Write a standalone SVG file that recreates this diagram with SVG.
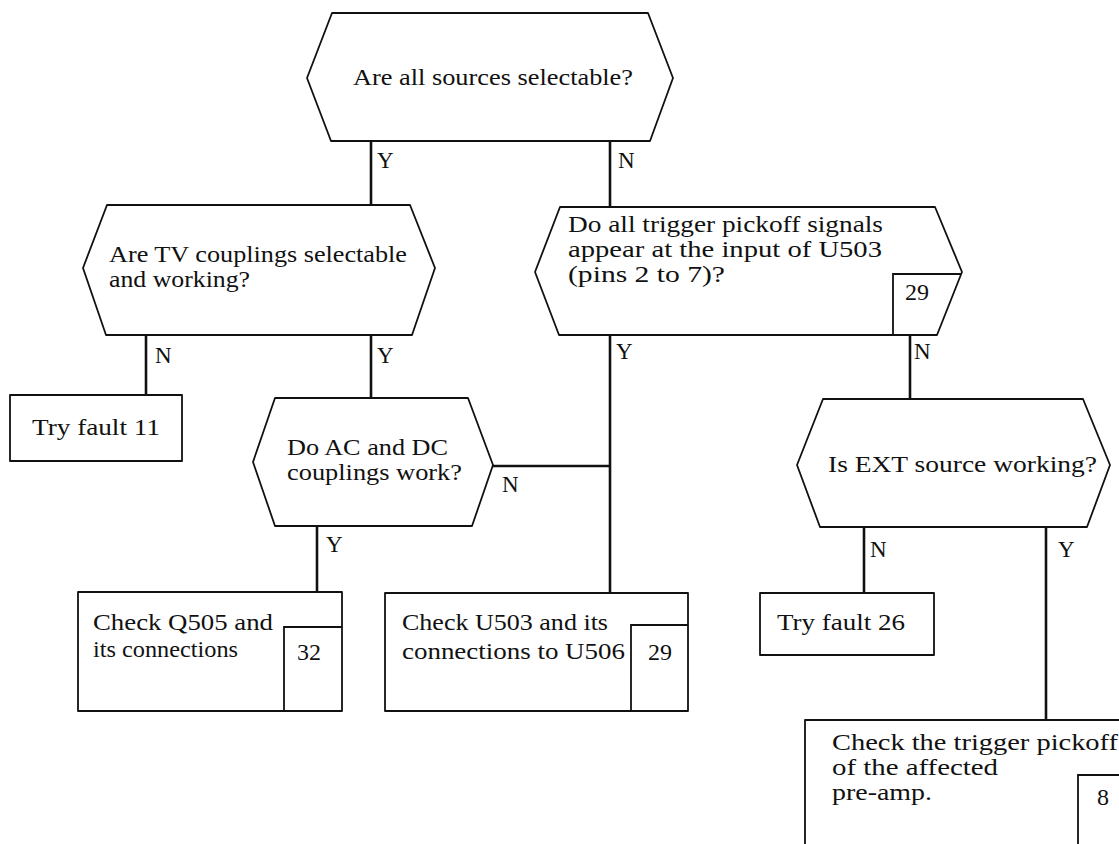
<svg xmlns="http://www.w3.org/2000/svg" width="1119" height="844" viewBox="0 0 1119 844" font-family="'Liberation Serif','DejaVu Serif','Times New Roman',serif">
<style>
.s{fill:#fff;stroke:#111;stroke-width:1.8;stroke-linejoin:round}
.b{fill:none;stroke:#111;stroke-width:1.8}
.c{fill:none;stroke:#111;stroke-width:2.6}
text{font-family:'Liberation Serif','DejaVu Serif','Times New Roman',serif;font-size:24px;fill:#111}
.l{font-size:23px}
</style>
<rect width="1119" height="844" fill="#fff"/>
<g id="connectors">
<path class="c" d="M371 141V205M610 141V207M146 335V395M371 335V398M610 335V593M910 335V399M493 466H610M317 526V592M864 527V593M1046 527V720"/>
<text class="l" x="377" y="168">Y</text>
<text class="l" x="618" y="168">N</text>
<text class="l" x="155" y="363">N</text>
<text class="l" x="377" y="363">Y</text>
<text class="l" x="616" y="359">Y</text>
<text class="l" x="914" y="359">N</text>
<text class="l" x="502" y="492">N</text>
<text class="l" x="326" y="552">Y</text>
<text class="l" x="870" y="557">N</text>
<text class="l" x="1058" y="557">Y</text>
</g>
<g id="q1">
<polygon class="s" points="307,78 332,13 648,13 673,78 650,141 331,141"/>
<text x="353" y="85" textLength="280" lengthAdjust="spacingAndGlyphs">Are all sources selectable?</text>
</g>
<g id="q2">
<polygon class="s" points="83,268 107,205 410,205 435,268 412,335 106,335"/>
<text x="109" y="262" textLength="298" lengthAdjust="spacingAndGlyphs">Are TV couplings selectable</text>
<text x="109" y="287" textLength="141" lengthAdjust="spacingAndGlyphs">and working?</text>
</g>
<g id="q3">
<polygon class="s" points="535,272 560,207 935,207 962,272 937,335 559,335"/>
<polyline class="b" points="893,335 893,274 961,274"/>
<text x="568" y="232" textLength="315" lengthAdjust="spacingAndGlyphs">Do all trigger pickoff signals</text>
<text x="568" y="257" textLength="314" lengthAdjust="spacingAndGlyphs">appear at the input of U503</text>
<text x="568" y="282" textLength="157" lengthAdjust="spacingAndGlyphs">(pins 2 to 7)?</text>
<text x="917" y="300" text-anchor="middle">29</text>
</g>
<g id="r1">
<rect class="s" x="10" y="395" width="172" height="66"/>
<text x="32" y="435" textLength="128" lengthAdjust="spacingAndGlyphs">Try fault 11</text>
</g>
<g id="q4">
<polygon class="s" points="253,462 275,398 468,398 493,465 472,526 275,526"/>
<text x="287" y="455" textLength="161" lengthAdjust="spacingAndGlyphs">Do AC and DC</text>
<text x="287" y="480" textLength="175" lengthAdjust="spacingAndGlyphs">couplings work?</text>
</g>
<g id="q5">
<polygon class="s" points="797,465 823,399 1083,399 1110,465 1087,527 820,527"/>
<text x="828" y="472" textLength="269" lengthAdjust="spacingAndGlyphs">Is EXT source working?</text>
</g>
<g id="r2">
<rect class="s" x="78" y="592" width="264" height="119"/>
<polyline class="b" points="284,711 284,627 342,627"/>
<text x="93" y="630" textLength="180" lengthAdjust="spacingAndGlyphs">Check Q505 and</text>
<text x="93" y="657" textLength="145" lengthAdjust="spacingAndGlyphs">its connections</text>
<text x="309" y="660" text-anchor="middle">32</text>
</g>
<g id="r3">
<rect class="s" x="385" y="593" width="303" height="118"/>
<polyline class="b" points="631,711 631,625 688,625"/>
<text x="402" y="630" textLength="206" lengthAdjust="spacingAndGlyphs">Check U503 and its</text>
<text x="402" y="659" textLength="223" lengthAdjust="spacingAndGlyphs">connections to U506</text>
<text x="660" y="660" text-anchor="middle">29</text>
</g>
<g id="r4">
<rect class="s" x="760" y="593" width="174" height="62"/>
<text x="777" y="630" textLength="128" lengthAdjust="spacingAndGlyphs">Try fault 26</text>
</g>
<g id="r5">
<rect class="s" x="805" y="720" width="330" height="140"/>
<polyline class="b" points="1078,850 1078,775 1125,775"/>
<text x="832" y="750" textLength="286" lengthAdjust="spacingAndGlyphs">Check the trigger pickoff</text>
<text x="832" y="775" textLength="166" lengthAdjust="spacingAndGlyphs">of the affected</text>
<text x="832" y="800" textLength="100" lengthAdjust="spacingAndGlyphs">pre-amp.</text>
<text x="1103" y="805" text-anchor="middle">8</text>
</g>
</svg>
